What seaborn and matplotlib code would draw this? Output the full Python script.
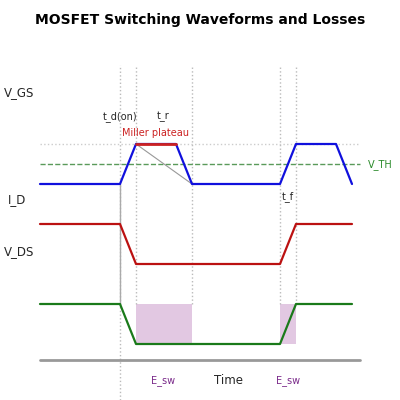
import matplotlib
matplotlib.use("Agg")
import matplotlib.pyplot as plt
import seaborn as sns
import pandas as pd

sns.set_theme(style="white")
plt.rcParams['font.family'] = ['DejaVu Sans']

t_vgs = [0, 10, 12, 17, 19, 30, 32, 37, 39]
vgs = [22, 22, 27, 27, 22, 22, 27, 27, 22]
t_vds = [0, 10, 12, 30, 32, 39]
vds = [17, 17, 12, 12, 17, 17]
t_id = [0, 10, 12, 30, 32, 39]
idv = [7, 7, 2, 2, 7, 7]
miller_t = [12, 17]
miller_v = [27, 27]
v_th = 24.5
marks = [10, 12, 19, 30, 32]
esw_spans = [(12, 19), (30, 32)]

fig = plt.figure(figsize=(4, 4), dpi=100)
ax = fig.add_axes([0, 0, 1, 1])
ax.set_xlim(-5, 45); ax.set_ylim(-5, 45); ax.axis('off')

for a, b in esw_spans:
    ax.fill_between([a, b], 2, 7, color='#e2c8e2', lw=0)
for i, m in enumerate(marks):
    y0 = -5 if i == 0 else 7
    ax.plot([m, m], [y0, 36.9], ls=':', color='#bbbbbb', lw=1)
ax.axhline(27, xmin=0.1, xmax=0.9, ls=':', color='#cccccc', lw=1)
ax.axhline(v_th, xmin=0.1, xmax=0.9, ls='--', color='#5a9a5a', lw=1)
ax.plot([10, 10], [7, 22], color='#aaaaaa', lw=1)
ax.plot([12, 19], [27, 22], color='#999999', lw=0.8)
ax.plot([0, 40], [0, 0], color='#999999', lw=2)

sns.lineplot(x=t_vgs, y=vgs, ax=ax, color='#1010dd', lw=1.6, sort=False)
sns.lineplot(x=t_vds, y=vds, ax=ax, color='#bb1111', lw=1.6, sort=False)
sns.lineplot(x=t_id, y=idv, ax=ax, color='#1a7a1a', lw=1.6, sort=False)
sns.lineplot(x=miller_t, y=miller_v, ax=ax, color='#cc2222', lw=2, sort=False)

fs = 7
ax.text(-4.5, 33.375, 'V_GS', fontsize=8.5, va='center')
ax.text(-4, 20, 'I_D', fontsize=8.5, va='center')
ax.text(-4.5, 13.5, 'V_DS', fontsize=8.5, va='center')
ax.text(10, 30.4, 't_d(on)', fontsize=fs, ha='center', va='center')
ax.text(15.4, 30.4, 't_r', fontsize=fs, ha='center', va='center')
ax.text(14.5, 28.4, 'Miller plateau', fontsize=fs, ha='center', va='center', color='#cc2222')
ax.text(31, 20.4, 't_f', fontsize=fs, ha='center', va='center')
ax.text(15.4, -2.6, 'E_sw', fontsize=fs, ha='center', va='center', color='#7a2a8a')
ax.text(31, -2.6, 'E_sw', fontsize=fs, ha='center', va='center', color='#7a2a8a')
ax.text(23.5, -2.6, 'Time', fontsize=8.5, ha='center', va='center')
ax.text(41, 24.4, 'V_TH', fontsize=fs, ha='left', va='center', color='#2a8a2a')
fig.text(0.5, 0.95, 'MOSFET Switching Waveforms and Losses', fontsize=10, weight='bold', ha='center', va='center', color='black')
fig.savefig('out.png', dpi=100)
